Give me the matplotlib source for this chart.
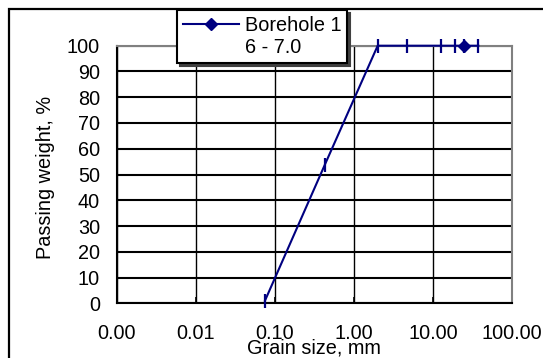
import matplotlib
matplotlib.use("Agg")
import matplotlib.pyplot as plt
from matplotlib.lines import Line2D
from matplotlib.patches import Rectangle
from matplotlib.ticker import FixedLocator, NullLocator

# sieve sizes (mm) and percent passing
grain_size = [0.075, 0.425, 2.0, 4.75, 12.5, 19.0, 25.0, 37.5]
passing = [1.0, 53.5, 100, 100, 100, 100, 100, 100]
diamond_idx = 6  # the only point drawn with the series' diamond marker

x_ticks = [0.001, 0.01, 0.1, 1, 10, 100]
x_tick_labels = ["0.00", "0.01", "0.10", "1.00", "10.00", "100.00"]
y_ticks = list(range(0, 101, 10))

series_name = "Borehole 1"
series_depth = "6 - 7.0"

plt.rcParams['font.family'] = ['Liberation Sans', 'DejaVu Sans']
FS = 14.3
NAVY = '#000080'

fig = plt.figure(figsize=(5.43, 3.58), dpi=100)
ax = fig.add_axes([116.7 / 543, 1 - 303.3 / 358, (512 - 116.7) / 543, (303.3 - 45.7) / 358])

ax.plot(grain_size, passing, color=NAVY, lw=1.5, marker='|', ms=10, mew=1.6,
        zorder=4, clip_on=False)
ax.plot([grain_size[diamond_idx]], [passing[diamond_idx]], color=NAVY, marker='D',
        ms=6, ls='none', zorder=5, clip_on=False)

ax.set_xscale('log')
ax.set_xlim(0.001, 100)
ax.set_ylim(0, 100)
ax.xaxis.set_major_locator(FixedLocator(x_ticks))
ax.xaxis.set_minor_locator(NullLocator())
ax.set_xticklabels(x_tick_labels)
ax.set_yticks(y_ticks)

ax.tick_params(axis='both', direction='in', length=4.5, width=1.2, colors='black',
               labelsize=FS)
ax.tick_params(axis='x', pad=15)
ax.tick_params(axis='y', pad=12)

ax.grid(axis='y', color='black', lw=1.5)
ax.grid(axis='x', color='black', lw=1.0)

for side in ['left', 'bottom']:
    ax.spines[side].set_color('black')
    ax.spines[side].set_linewidth(1.5)
for side in ['top', 'right']:
    ax.spines[side].set_color('#808080')
    ax.spines[side].set_linewidth(1.5)

ax.set_xlabel("Grain size, mm", fontsize=FS)
ax.xaxis.set_label_coords(0.5, -0.138)
ax.set_ylabel("Passing weight, %", fontsize=FS)
ax.yaxis.set_label_coords(-0.156, 0.49)

# chart outer frame (cut off at right and bottom in the picture)
fig.patches.append(Rectangle((8.5 / 543, -0.1), 1.2, 1.1 - 8.5 / 358,
                             transform=fig.transFigure, fill=False,
                             edgecolor='black', lw=1.6, zorder=0))

handles = [Line2D([], [], color=NAVY, lw=1.5, marker='D', ms=6),
           Line2D([], [], color='none')]
leg = fig.legend(handles, [series_name, series_depth], loc='upper left',
                 bbox_to_anchor=(177 / 543, 1 - 10 / 358), borderaxespad=0,
                 fontsize=FS, frameon=True, fancybox=False,
                 shadow={'color': '0.25', 'alpha': 1.0},
                 edgecolor='black', framealpha=1, handlelength=2.8,
                 handletextpad=0.3, labelspacing=0.15, borderpad=0.3)
leg.get_frame().set_linewidth(1.5)

fig.savefig("out.png", dpi=100)
